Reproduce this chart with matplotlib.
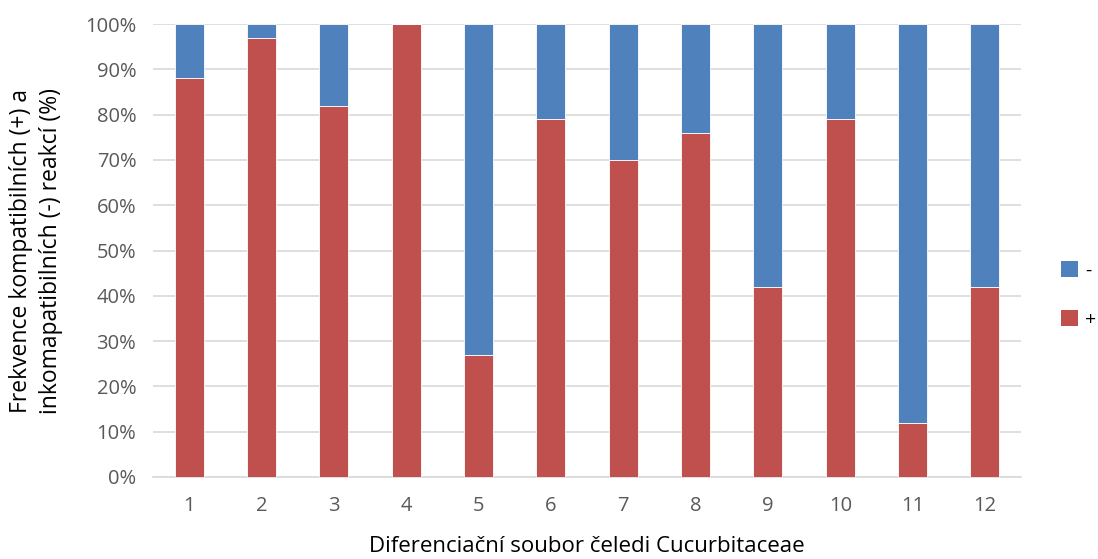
import matplotlib
matplotlib.use("Agg")
import matplotlib.pyplot as plt
from matplotlib.patches import Patch
import numpy as np

plt.rcParams['font.family'] = ['Open Sans', 'DejaVu Sans']

categories = ['1', '2', '3', '4', '5', '6', '7', '8', '9', '10', '11', '12']
compatible = [88, 97, 82, 100, 27, 79, 70, 76, 42, 79, 12, 42]
incompatible = [100 - v for v in compatible]
yticks = [0, 10, 20, 30, 40, 50, 60, 70, 80, 90, 100]

red = '#C0504D'
blue = '#4F81BD'

fig = plt.figure(figsize=(10.98, 5.59), dpi=100)
ax = fig.add_axes([0.1393, 0.1467, 0.7907, 0.8103])

x = np.arange(len(categories))
ax.bar(x, compatible, width=0.4, color=red, edgecolor='white', linewidth=0.6, zorder=3)
ax.bar(x, incompatible, width=0.4, bottom=compatible, color=blue,
       edgecolor='white', linewidth=0.6, zorder=3)

ax.set_xlim(-0.5, len(categories) - 0.5)
ax.set_ylim(0, 100)
ax.set_yticks(yticks)
ax.set_yticklabels([f'{v}%' for v in yticks])
ax.set_xticks(x)
ax.set_xticklabels(categories)
ax.tick_params(axis='both', length=0, labelsize=14.5, labelcolor='#595959')
ax.tick_params(axis='x', pad=14)
ax.tick_params(axis='y', pad=12)

ax.grid(axis='y', color='#D9D9D9', linewidth=1.2, zorder=0)
for side in ['top', 'right', 'left']:
    ax.spines[side].set_visible(False)
ax.spines['bottom'].set_color('#D9D9D9')
ax.spines['bottom'].set_linewidth(1.2)

ax.set_xlabel('Diferenciační soubor čeledi Cucurbitaceae', fontsize=16, labelpad=14)
ax.set_ylabel('Frekvence kompatibilních (+) a\ninkomapatibilních (-) reakcí (%)',
              fontsize=16.5, labelpad=16, linespacing=1.3)

handles = [Patch(facecolor=blue, label='-'), Patch(facecolor=red, label='+')]
fig.legend(handles=handles, loc='center left', bbox_to_anchor=(0.966, 0.472),
           frameon=False, fontsize=14, handlelength=0.9, handleheight=0.9,
           handletextpad=0.35, labelspacing=1.55, borderpad=0, borderaxespad=0)

fig.savefig('out.png', dpi=100)
